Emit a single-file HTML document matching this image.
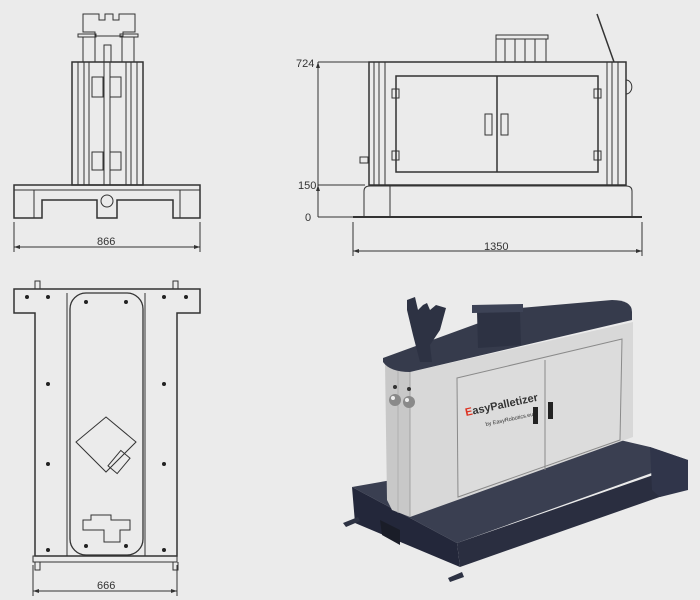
<!DOCTYPE html>
<html><head><style>
html,body{margin:0;padding:0;background:#ebebeb;}
svg{display:block;}
text{font-family:"Liberation Sans",sans-serif;font-size:11px;fill:#333;}
</style></head><body>
<svg width="700" height="600" viewBox="0 0 700 600" xmlns="http://www.w3.org/2000/svg">
<rect width="700" height="600" fill="#ebebeb"/>
<g fill="none" stroke="#333" stroke-width="1">
<!-- FRONT VIEW -->
<path d="M83 14 h16 v6 h6 v-6 h8 v6 h6 v-6 h16 v18 h-12 v4 h-28 v-4 h-12 z"/>
<rect x="78" y="34" width="18" height="3"/><rect x="120" y="34" width="18" height="3"/>
<rect x="83" y="37" width="12" height="25"/><rect x="122" y="37" width="12" height="25"/>
<rect x="104" y="45" width="7" height="17"/>
<rect x="72" y="62" width="71" height="123" stroke-width="1.5"/>
<line x1="78" y1="62" x2="78" y2="185"/><line x1="84" y1="62" x2="84" y2="185"/>
<line x1="89" y1="62" x2="89" y2="185"/><line x1="104" y1="62" x2="104" y2="185"/>
<line x1="110" y1="62" x2="110" y2="185"/><line x1="126" y1="62" x2="126" y2="185"/>
<line x1="131" y1="62" x2="131" y2="185"/><line x1="137" y1="62" x2="137" y2="185"/>
<rect x="92" y="77" width="11" height="20"/><rect x="110" y="77" width="11" height="20"/>
<rect x="92" y="152" width="11" height="18"/><rect x="110" y="152" width="11" height="18"/>
<path d="M14 185 h186 v33 h-27 v-18 h-56 v18 h-20 v-18 h-55 v18 h-28 z" stroke-width="1.5"/>
<line x1="14" y1="190" x2="200" y2="190"/>
<circle cx="107" cy="201" r="6"/>
<line x1="34" y1="190" x2="34" y2="218"/><line x1="180" y1="190" x2="180" y2="218"/>
<line x1="14" y1="222" x2="14" y2="252"/><line x1="200" y1="222" x2="200" y2="252"/>
<line x1="14" y1="247" x2="200" y2="247"/>
<!-- SIDE VIEW -->
<rect x="369" y="62" width="257" height="123" stroke-width="1.5"/>
<line x1="374" y1="62" x2="374" y2="185"/><line x1="379" y1="62" x2="379" y2="185"/><line x1="385" y1="62" x2="385" y2="185"/>
<line x1="607" y1="62" x2="607" y2="185"/><line x1="612" y1="62" x2="612" y2="185"/><line x1="618" y1="62" x2="618" y2="185"/>
<rect x="396" y="76" width="202" height="96" stroke-width="1.5"/>
<line x1="497" y1="76" x2="497" y2="172" stroke-width="1.5"/>
<rect x="485" y="114" width="7" height="21"/><rect x="501" y="114" width="7" height="21"/>
<rect x="392" y="89" width="7" height="9"/><rect x="392" y="151" width="7" height="9"/>
<rect x="594" y="89" width="7" height="9"/><rect x="594" y="151" width="7" height="9"/>
<path d="M626 80 a5 6 0 0 1 0 14"/>
<rect x="360" y="157" width="8" height="6"/>
<path d="M364 217 v-26 q0 -5 6 -5 h256 q6 0 6 5 v26"/>
<line x1="390" y1="186" x2="390" y2="217"/>
<line x1="353" y1="217" x2="642" y2="217" stroke-width="2"/>
<rect x="496" y="35" width="52" height="4"/>
<rect x="496" y="39" width="50" height="23"/>
<line x1="505" y1="39" x2="505" y2="62"/><line x1="515" y1="39" x2="515" y2="62"/><line x1="525" y1="39" x2="525" y2="62"/><line x1="535" y1="39" x2="535" y2="62"/>
<line x1="597" y1="14" x2="614" y2="62" stroke-width="1.5"/>
<line x1="318" y1="62" x2="318" y2="217"/>
<line x1="318" y1="62" x2="369" y2="62"/><line x1="318" y1="185" x2="365" y2="185"/><line x1="318" y1="217" x2="353" y2="217"/>
<line x1="353" y1="222" x2="353" y2="256"/><line x1="642" y1="222" x2="642" y2="256"/>
<line x1="353" y1="251" x2="642" y2="251"/>
<!-- TOP VIEW -->
<path d="M14 289 h186 v24 h-23 v243 h-142 v-243 h-21 z" stroke-width="1.5"/>
<rect x="33" y="556" width="144" height="6"/>
<line x1="67" y1="293" x2="67" y2="556"/><line x1="145" y1="293" x2="145" y2="556"/>
<rect x="70" y="293" width="73" height="262" rx="16" stroke-width="1.3"/>
<path d="M35 289 v-8 h5 v8 M173 289 v-8 h5 v8 M35 562 v8 h5 v-8 M173 562 v8 h5 v-8"/>
<path d="M106 417 l30 25 l-30 30 l-30 -30 z"/>
<rect x="113" y="452" width="12" height="20" transform="rotate(40 119 462)"/>
<path d="M83 520 h8 v-5 h20 v5 h19 v10 h-10 v12 h-16 v-12 h-21 z"/>
<line x1="33" y1="565" x2="33" y2="596"/><line x1="177" y1="565" x2="177" y2="596"/>
<line x1="33" y1="591" x2="177" y2="591"/>
</g>
<g fill="#333">
<path d="M14 247 l6 -2 v4 z M200 247 l-6 -2 v4 z M353 251 l6 -2 v4 z M642 251 l-6 -2 v4 z M33 591 l6 -2 v4 z M177 591 l-6 -2 v4 z M318 62 l-2 6 h4 z M318 185 l-2 6 h4 z"/>
<g fill="#222">
<circle cx="27" cy="297" r="2"/><circle cx="48" cy="297" r="2"/><circle cx="164" cy="297" r="2"/><circle cx="186" cy="297" r="2"/>
<circle cx="48" cy="384" r="2"/><circle cx="164" cy="384" r="2"/><circle cx="48" cy="464" r="2"/><circle cx="164" cy="464" r="2"/>
<circle cx="48" cy="550" r="2"/><circle cx="164" cy="550" r="2"/><circle cx="86" cy="302" r="2"/><circle cx="126" cy="302" r="2"/>
<circle cx="86" cy="546" r="2"/><circle cx="126" cy="546" r="2"/>
</g>
</g>
<text x="97" y="245">866</text>
<text x="484" y="250">1350</text>
<text x="296" y="67">724</text>
<text x="298" y="189">150</text>
<text x="305" y="221">0</text>
<text x="97" y="589">666</text>
<!-- 3D RENDER -->
<g>
<!-- base -->
<polygon points="352,487 620,440 650,447 688,460 457,543" fill="#3a3f51"/>
<polygon points="352,487 457,543 460,567 355,523" fill="#23273a"/>
<polygon points="457,543 688,463 688,487 460,567" fill="#2a2e40"/>
<polygon points="650,447 688,460 688,490 660,497 652,490" fill="#30354a"/>
<polygon points="343,523 358,517 360,521 346,527" fill="#2d3243"/>
<polygon points="448,578 462,572 464,577 450,582" fill="#2d3243"/>
<polygon points="380,520 400,530 400,545 382,535" fill="#1a1d28"/>
<!-- body -->
<polygon points="410,372 633,322 633,437 410,517" fill="#d8d8d8"/>
<polygon points="385,362 410,372 410,517 392,510 387,500" fill="#c8c8c8"/>
<line x1="410" y1="372" x2="410" y2="517" stroke="#999" stroke-width="0.8"/>
<line x1="398" y1="368" x2="398" y2="513" stroke="#aaa" stroke-width="0.8"/>
<path d="M383 358 L520 308 L612 300 Q632 300 632 312 L632 320 L410 372 Q390 372 383 362 Z" fill="#363b4c"/>
<polygon points="457,378 622,339 620,440 458,497" fill="#dcdcdc" stroke="#8a8a8a" stroke-width="1"/>
<line x1="545" y1="360" x2="545" y2="470" stroke="#8a8a8a"/>
<rect x="533" y="407" width="5" height="17" fill="#222"/><rect x="548" y="402" width="5" height="17" fill="#222"/>
<text x="466" y="416" style="font-weight:bold;font-size:11px;fill:#333" transform="rotate(-12 466 416)"><tspan fill="#d32">E</tspan>asyPalletizer</text>
<text x="486" y="426" style="font-size:5.5px;fill:#333" transform="rotate(-12 486 426)">by EasyRobotics.eu</text>
<!-- fork bracket -->
<polygon points="407,300 415,297 418,310 423,305 427,303 430,310 436,305 446,308 440,330 430,345 432,362 420,362 413,335 407,310" fill="#2d3243"/>
<!-- plate -->
<polygon points="477,312 520,312 521,345 478,348" fill="#2d3243"/>
<polygon points="472,305 523,304 523,312 472,313" fill="#3d4356"/>
<circle cx="395" cy="400" r="6" fill="#8a8a8a"/><circle cx="409" cy="402" r="6" fill="#8a8a8a"/>
<circle cx="393" cy="398" r="2" fill="#eee"/><circle cx="407" cy="400" r="2" fill="#eee"/>
<circle cx="395" cy="387" r="2" fill="#333"/><circle cx="409" cy="389" r="2" fill="#333"/>
</g>
</svg>
</body></html>
